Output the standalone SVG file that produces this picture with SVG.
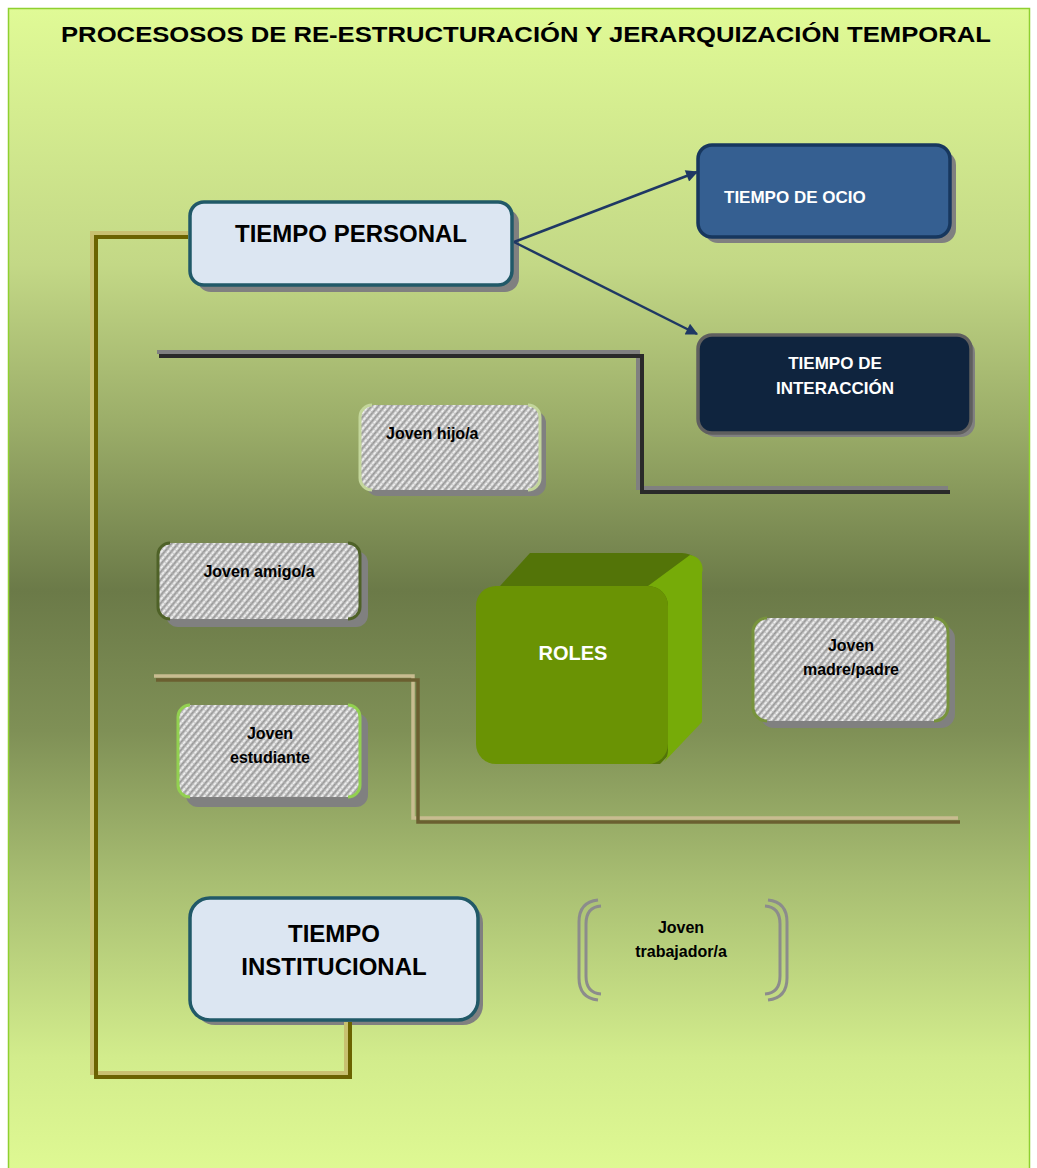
<svg xmlns="http://www.w3.org/2000/svg" width="1037" height="1168" viewBox="0 0 1037 1168">
<defs>
<linearGradient id="bg" x1="0" y1="0" x2="0" y2="1">
<stop offset="0" stop-color="#e0fa96"/>
<stop offset="0.22" stop-color="#c3d886"/>
<stop offset="0.36" stop-color="#9aac68"/>
<stop offset="0.5" stop-color="#6b7a48"/>
<stop offset="0.62" stop-color="#7f9056"/>
<stop offset="0.75" stop-color="#a8be72"/>
<stop offset="0.9" stop-color="#d2ec8c"/>
<stop offset="1" stop-color="#dff993"/>
</linearGradient>
<pattern id="tex" width="5" height="4" patternUnits="userSpaceOnUse" patternTransform="rotate(40)">
<rect width="5" height="4" fill="#cbcbcb"/>
<rect width="1.6" height="4" fill="#979797"/>
<rect x="2.6" width="1.4" height="4" fill="#f4f4f4"/>
<rect x="0" y="0" width="5" height="1" fill="#b4b4b4" opacity="0.6"/>
</pattern>
<marker id="arrowhead" viewBox="0 0 10 10" refX="9" refY="5" markerWidth="14" markerHeight="12" orient="auto" markerUnits="userSpaceOnUse">
<path d="M0,0 L10,5 L0,10 z" fill="#1f3864"/>
</marker>
</defs>
<style>
text{font-family:"Liberation Sans","DejaVu Sans",Arial,sans-serif;font-weight:bold}
.shadow{fill:#808080}
.light{fill:#dce6f2;stroke:#215968;stroke-width:3.5}
.lbl{font-size:24px;fill:#000;text-anchor:middle}
.wlbl{font-size:17px;fill:#fff}
.jlbl{font-size:16px;fill:#000;text-anchor:middle}
.tex{fill:url(#tex)}
.arrow{stroke:#1f3864;stroke-width:2.5;fill:none;marker-end:url(#arrowhead)}
</style>
<rect x="0" y="0" width="1037" height="1168" fill="#ffffff"/>
<rect x="8.5" y="8.5" width="1021" height="1165" fill="url(#bg)" stroke="#8fd030" stroke-width="1.5"/>
<text x="526" y="42" font-size="22" text-anchor="middle" textLength="930" lengthAdjust="spacingAndGlyphs" fill="#000">PROCESOSOS DE RE-ESTRUCTURACIÓN Y JERARQUIZACIÓN TEMPORAL</text>

<g id="separators">
<polyline points="157,352 638,352 638,488 948,488" fill="none" stroke="#808080" stroke-width="4"/>
<polyline points="159,356 642,356 642,492 950,492" fill="none" stroke="#2a2a2a" stroke-width="4"/>
<polyline points="154,676 413,676 413,818 958,818" fill="none" stroke="#c8bc90" stroke-width="3.5"/>
<polyline points="156,680 418,680 418,822 960,822" fill="none" stroke="#6b5f30" stroke-width="3.5"/>
</g>

<g id="tiempo-personal">
<rect class="shadow" x="197" y="209" width="322" height="83" rx="14"/>
<rect class="light" x="190" y="202" width="322" height="83" rx="14"/>
<text class="lbl" x="351" y="242">TIEMPO PERSONAL</text>
</g>

<g id="tiempo-ocio">
<rect class="shadow" x="704" y="151" width="252" height="92" rx="14"/>
<rect x="698" y="145" width="252" height="92" rx="14" fill="#355f91" stroke="#17375e" stroke-width="3.5"/>
<text class="wlbl" x="724" y="203">TIEMPO DE OCIO</text>
</g>

<g id="tiempo-interaccion">
<rect class="shadow" x="702" y="339" width="273" height="98" rx="14"/>
<rect x="698" y="335" width="273" height="98" rx="14" fill="#0f243e" stroke="#5f5f5f" stroke-width="3.5"/>
<text class="wlbl" x="835" y="369" text-anchor="middle">TIEMPO DE</text>
<text class="wlbl" x="835" y="394" text-anchor="middle">INTERACCIÓN</text>
</g>

<g id="joven-hijo">
<rect class="shadow" x="366" y="411" width="180" height="85" rx="12"/>
<rect class="tex" x="360" y="405" width="180" height="85" rx="12"/>
<path d="M372,405 A12,12 0 0 0 360,417 V478 A12,12 0 0 0 372,490 M528,405 A12,12 0 0 1 540,417 V478 A12,12 0 0 1 528,490" fill="none" stroke="#c3d69b" stroke-width="3"/>
<text x="386" y="439" font-size="16" fill="#000">Joven hijo/a</text>
</g>

<g id="joven-amigo">
<rect class="shadow" x="166" y="551" width="202" height="76" rx="12"/>
<rect class="tex" x="158" y="543" width="202" height="76" rx="12"/>
<path d="M170,543 A12,12 0 0 0 158,555 V607 A12,12 0 0 0 170,619 M348,543 A12,12 0 0 1 360,555 V607 A12,12 0 0 1 348,619" fill="none" stroke="#4f6228" stroke-width="3"/>
<text class="jlbl" x="259" y="577">Joven amigo/a</text>
</g>

<g id="joven-madre-padre">
<rect class="shadow" x="760" y="625" width="195" height="103" rx="14"/>
<rect class="tex" x="753" y="618" width="195" height="103" rx="14"/>
<path d="M767,618 A14,14 0 0 0 753,632 V707 A14,14 0 0 0 767,721 M934,618 A14,14 0 0 1 948,632 V707 A14,14 0 0 1 934,721" fill="none" stroke="#77933c" stroke-width="3"/>
<text class="jlbl" x="851" y="651">Joven</text>
<text class="jlbl" x="851" y="675">madre/padre</text>
</g>

<g id="joven-estudiante">
<rect class="shadow" x="186" y="713" width="182" height="94" rx="12"/>
<rect class="tex" x="178" y="705" width="182" height="92" rx="12"/>
<path d="M190,705 A12,12 0 0 0 178,717 V785 A12,12 0 0 0 190,797 M348,705 A12,12 0 0 1 360,717 V785 A12,12 0 0 1 348,797" fill="none" stroke="#92d050" stroke-width="3"/>
<text class="jlbl" x="270" y="739">Joven</text>
<text class="jlbl" x="270" y="763">estudiante</text>
</g>

<g id="roles">
<path d="M500,586 L530,553 H682 A20,20 0 0 1 702,573 V720 L660,764 H500 Z" fill="#537408"/>
<path d="M648,586 L690,555 A14,14 0 0 1 702,573 V722 L664,762 A20,20 0 0 0 668,750 V606 A20,20 0 0 0 648,586 Z" fill="#76ab08"/>
<rect x="476" y="586" width="192" height="178" rx="20" fill="#6a9304"/>
<text x="573" y="660" font-size="20" fill="#fff" text-anchor="middle">ROLES</text>
</g>

<g id="joven-trabajador">
<path d="M598,900 Q579,902 579,922 V978 Q579,998 598,1000 M601,906 Q586,907 586,924 V976 Q586,993 601,994" fill="none" stroke="#8c8c8c" stroke-width="3"/>
<path d="M768,900 Q787,902 787,922 V978 Q787,998 768,1000 M765,906 Q780,907 780,924 V976 Q780,993 765,994" fill="none" stroke="#8c8c8c" stroke-width="3"/>
<text class="jlbl" x="681" y="933">Joven</text>
<text class="jlbl" x="681" y="957">trabajador/a</text>
</g>

<g id="tiempo-institucional">
<rect class="shadow" x="195" y="903" width="288" height="122" rx="20"/>
<rect class="light" x="190" y="898" width="288" height="122" rx="20"/>
<text class="lbl" x="334" y="942">TIEMPO</text>
<text class="lbl" x="334" y="975">INSTITUCIONAL</text>
</g>

<g id="connectors">
<polyline points="188,233 92,233 92,1073 346,1073 346,1022" fill="none" stroke="#c8c070" stroke-width="4"/>
<polyline points="188,237 96,237 96,1077 350,1077 350,1022" fill="none" stroke="#6b6300" stroke-width="4"/>
<line class="arrow" x1="514" y1="242" x2="697" y2="172"/>
<line class="arrow" x1="514" y1="242" x2="697" y2="334"/>
</g>
</svg>
